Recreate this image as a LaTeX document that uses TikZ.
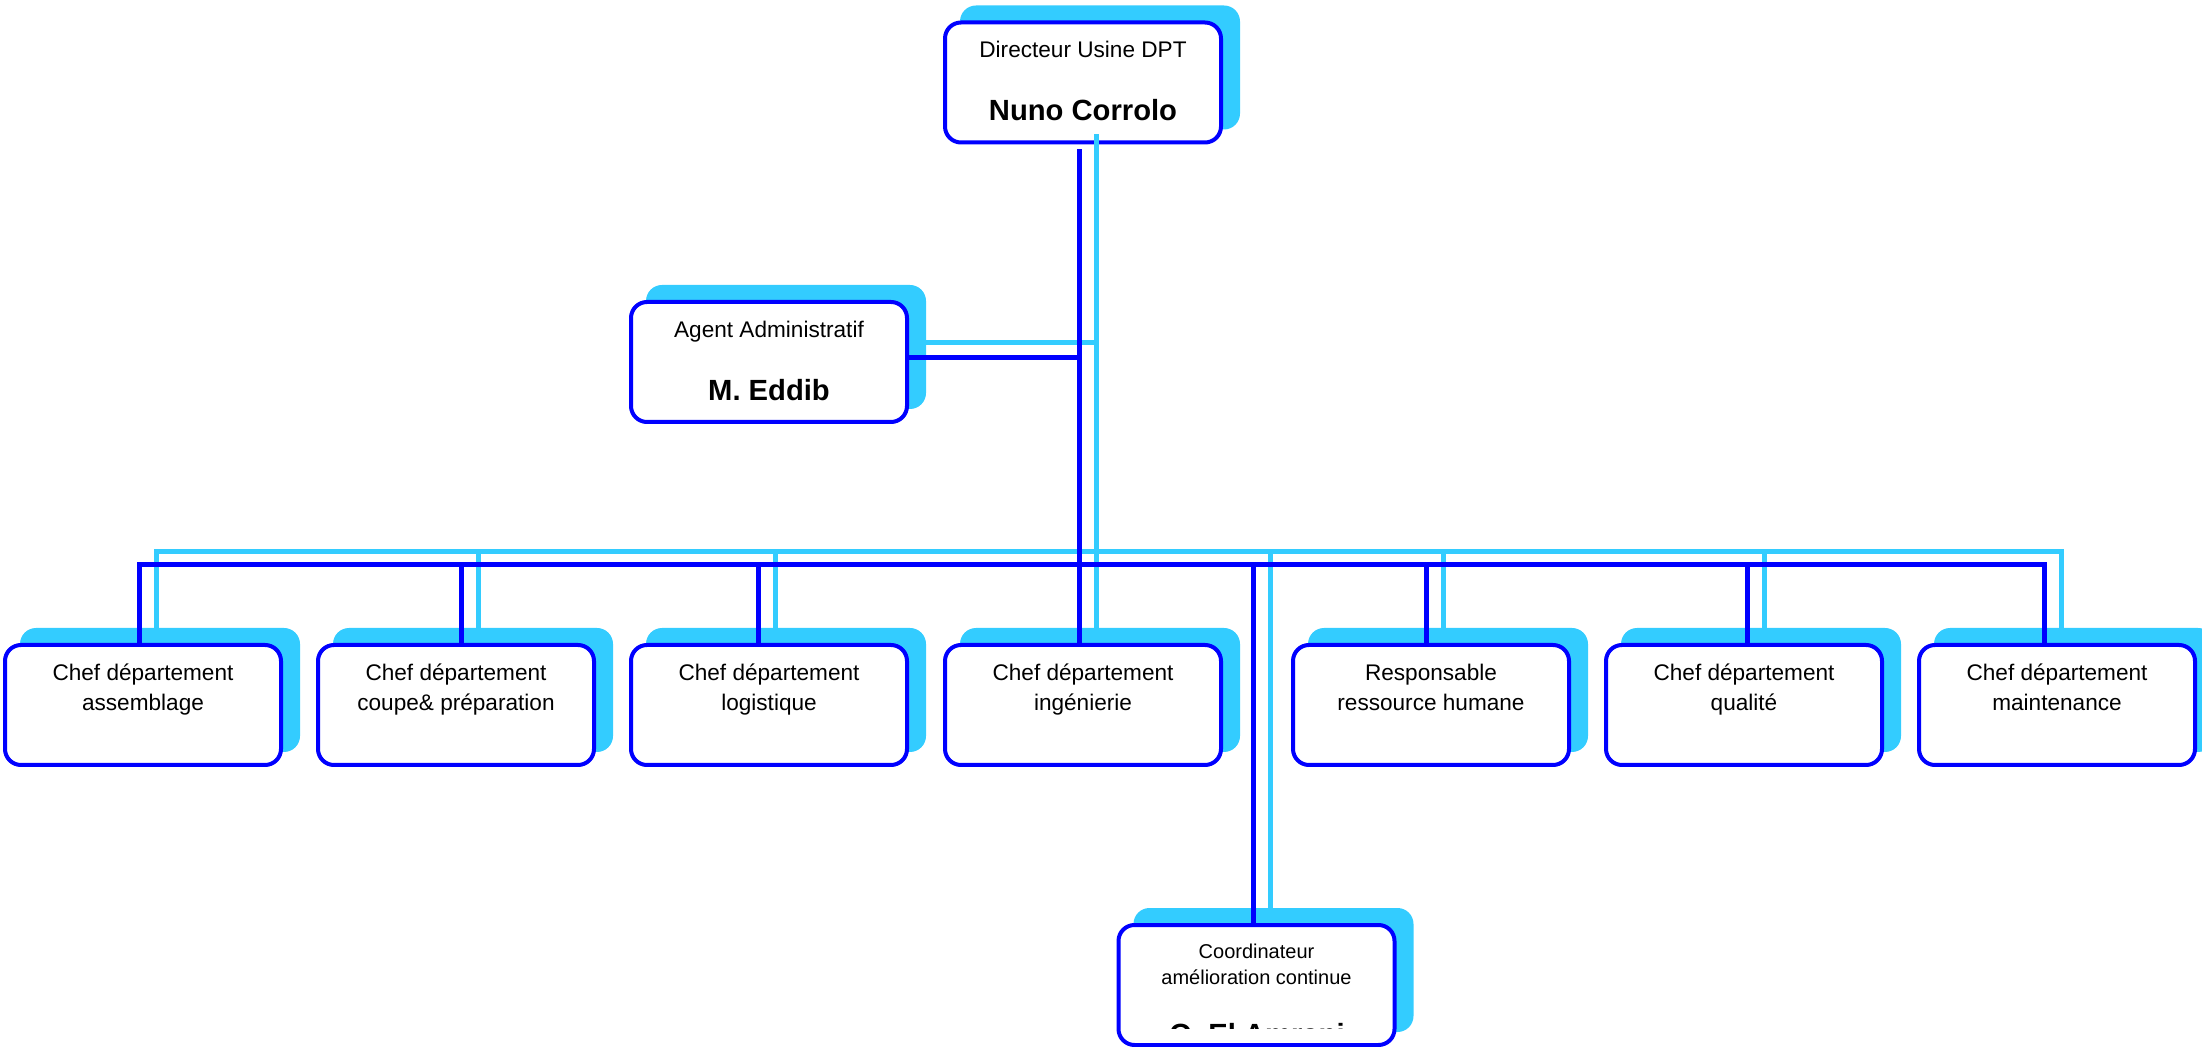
\documentclass[tikz,border=0pt]{standalone}
\usepackage{fontspec}
\setmainfont{Liberation Sans}
\definecolor{orgblue}{RGB}{0,0,255}
\definecolor{orgcyan}{RGB}{51,204,255}
\newcommand{\bossfont}{\fontsize{14.6}{17}\selectfont\bfseries}
% box with its shadow: [options]{name}{x}{y}{text}
\newcommand{\orgbox}[5][]{%
	\node[cardshadow] (#2s) at ({#3+17},{#4-15}) {};
	\node[orgcard,#1] (#2) at (#3,#4) {#5};}
% links: {style}{suffix}{bus}
\newcommand{\orglinks}[3]{%
	\draw[#1] ([xshift=-2pt,yshift=-2.5pt]dir#2.south) -- ([xshift=-2pt]b4#2.north);
	\draw[#1] ([yshift=2pt]agent#2.east) -- ([yshift=2pt]agent#2.east -| #3);
	\draw[#1] ([xshift=-2pt]b1#2.north) |- (#3) -| ([xshift=-6.5pt]b7#2.north);
	\draw[#1] ([xshift=2.5pt]b2#2.north |- #3) -- ([xshift=2.5pt]b2#2.north);
	\draw[#1] ([xshift=-5.5pt]b3#2.north |- #3) -- ([xshift=-5.5pt]b3#2.north);
	\draw[#1] ([xshift=-2.5pt]b5#2.north |- #3) -- ([xshift=-2.5pt]b5#2.north);
	\draw[#1] ([xshift=1.5pt]b6#2.north |- #3) -- ([xshift=1.5pt]b6#2.north);
	\draw[#1] ([xshift=-1.5pt]coord#2.north |- #3) -- ([xshift=-1.5pt]coord#2.north);}
\tikzset{
	cardshadow/.style={fill=orgcyan, rounded corners=8pt, minimum width=140pt, minimum height=62pt, inner sep=0pt, outer sep=0pt},
	orgcard/.style={draw=orgblue, line width=2pt, fill=white, rounded corners=8pt, minimum width=138pt, minimum height=60pt, inner sep=0pt,
		font=\fontsize{11.3}{15}\selectfont,
		execute at begin node={\begin{minipage}[t][41pt][t]{136pt}\centering},
		execute at end node={\end{minipage}}},
	darklink/.style={draw=orgblue, line width=2.5pt},
	lightlink/.style={draw=orgcyan, line width=2.5pt},
}
\begin{document}
\begin{tikzpicture}[x=0.5pt,y=-0.5pt]
			%%%%% START %%%%%
			\useasboundingbox (0,0) rectangle (2202,1047);
			
			\coordinate (bus) at (1079,565);
			\coordinate (lbus) at (1096,552);
			
			\orgbox{dir}{1083}{82.5}{Directeur Usine DPT\\[16.5pt]{\bossfont Nuno Corrolo}}
			\orgbox{agent}{769}{362}{Agent Administratif\\[16.5pt]{\bossfont M. Eddib}}
			
			\orgbox{b1}{143}{705}{Chef département\\assemblage}
			\orgbox{b2}{456}{705}{Chef département\\coupe\& préparation}
			\orgbox{b3}{769}{705}{Chef département\\logistique}
			\orgbox{b4}{1083}{705}{Chef département\\ingénierie}
			\orgbox{b5}{1431}{705}{Responsable\\ressource humane}
			\orgbox{b6}{1744}{705}{Chef département\\qualité}
			\orgbox{b7}{2057}{705}{Chef département\\maintenance}
			
			\orgbox[font=\fontsize{10}{13}\selectfont]{coord}{1256.5}{985}{Coordinateur\\amélioration continue}
			
			\orglinks{lightlink}{s}{lbus}
			\orglinks{darklink}{}{bus}
			
			\begin{scope}
				\clip (1100,900) rectangle (1420,1028);
				\node[font=\bossfont, anchor=base, inner sep=0pt] (coordname) at (1257,1044) {O. El Amrani};
			\end{scope}
			%%%%% END %%%%%
\end{tikzpicture}
\end{document}
